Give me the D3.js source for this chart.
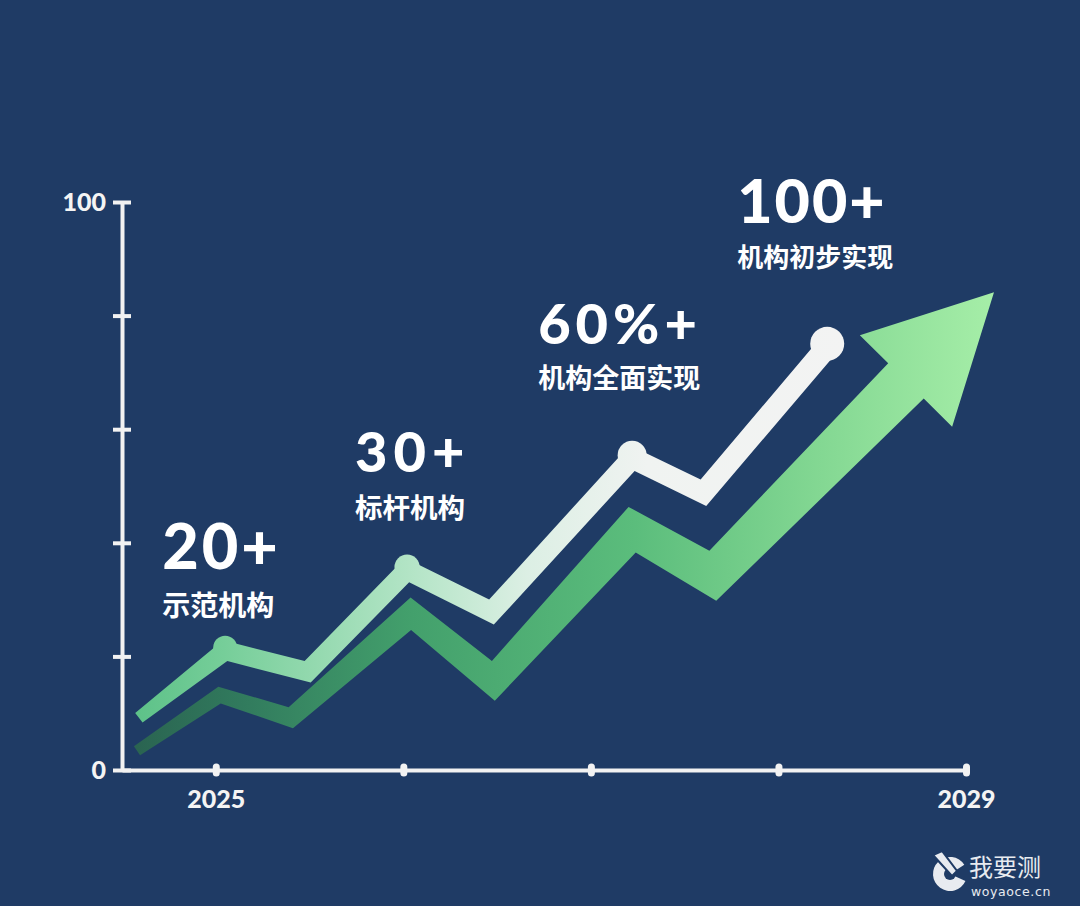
<!DOCTYPE html>
<html lang="zh">
<head>
<meta charset="UTF-8">
<title>机构发展路线</title>
<script src="https://d3js.org/d3.v7.min.js"></script>
<style>
    html, body { margin: 0; padding: 0; background: #1f3b65; }
    svg { display: block; }
    .num { font-family: Lato, 'Open Sans', sans-serif; font-weight: 900; fill: #fff; }
    .cap { font-family: 'Noto Sans CJK SC', sans-serif; font-weight: 700; fill: #fff; }
    .axis text { font-family: Lato, 'Open Sans', sans-serif; font-weight: 900; font-size: 25px; fill: #f4f4f4; }
    .axis path, .axis line { stroke: #f2f2f2; }
</style>
</head>
<body>
<div id="chart"></div>
<script>
// data
const yTicks = [0, 20, 40, 60, 80, 100];
const yLabels = [0, 100];
const xTicks = [2025, 2026, 2027, 2028, 2029];
const xLabels = [2025, 2029];

// upper (white) zigzag
const lineX = [2024.59, 2025.05, 2025.49, 2026.02, 2026.47, 2027.22, 2027.60, 2028.26];
const lineY = [9.2, 21.0, 17.3, 35.2, 27.8, 54.9, 48.8, 74.5];

// lower (green) arrow
const arrowX = [2024.58, 2025.02, 2025.40, 2026.04, 2026.48, 2027.22, 2027.65, 2028.68];
const arrowY = [3.4, 13.2, 9.2, 27.5, 15.7, 42.3, 34.2, 68.5];

// milestones sit on the peaks of the white line
const peakIndex = [1, 3, 5, 7];
const peakValue = [20, 30, 60, 100];
const peakText = ['20+', '30+', '60%+', '100+'];
const peakCaption = ['示范机构', '标杆机构', '机构全面实现', '机构初步实现'];

// label layout (pixels, relative to the dot)
const labelLayout = [
    { dx: -63, dyNum: -82, dyCap: -35, num: 63, cap: 28, ls: 3 },
    { dx: -52, dyNum: -98, dyCap: -52, num: 56, cap: 27.5, ls: 6 },
    { dx: -94, dyNum: -114, dyCap: -70, num: 56, cap: 27, ls: 5 },
    { dx: -90, dyNum: -124, dyCap: -80, num: 61, cap: 26, ls: 2 }
];

const W = 1080, H = 906;

const svg = d3.select('#chart').append('svg')
    .attr('width', W)
    .attr('height', H);

svg.append('rect').attr('width', W).attr('height', H).attr('fill', '#1f3b65');

const x = d3.scaleLinear().domain([2024.5, 2029]).range([122, 966]);
const y = d3.scaleLinear().domain([0, 100]).range([770, 202]);

const defs = svg.append('defs');

function gradient(id, x1, x2, stops) {
    const g = defs.append('linearGradient')
        .attr('id', id)
        .attr('gradientUnits', 'userSpaceOnUse')
        .attr('x1', x1).attr('x2', x2)
        .attr('y1', 0).attr('y2', 0);
    stops.forEach(s => g.append('stop').attr('offset', s[0]).attr('stop-color', s[1]));
}

gradient('greenGrad', x(arrowX[0]), 995, [
    [0, '#2a6451'], [0.12, '#317a5d'], [0.32, '#43a06c'],
    [0.58, '#5bbd7c'], [0.8, '#84d893'], [1, '#a6eea8']
]);
gradient('whiteGrad', x(lineX[0]), 845, [
    [0, '#5ec289'], [0.12, '#76ce99'], [0.38, '#b2e4c5'],
    [0.55, '#dcefe4'], [0.72, '#f0f3f1'], [1, '#f3f3f3']
]);

// axes
const yAxis = svg.append('g')
    .attr('class', 'axis')
    .attr('transform', `translate(${x.range()[0]},0)`)
    .call(d3.axisLeft(y)
        .tickValues(yTicks)
        .tickSizeInner(9)
        .tickSizeOuter(0)
        .tickPadding(7)
        .tickFormat(d => yLabels.includes(d) ? d : ''));
yAxis.select('.domain').attr('stroke-width', 4);
yAxis.selectAll('.tick line').attr('x1', -9).attr('x2', 9).attr('stroke-width', 4);

const xAxis = svg.append('g')
    .attr('class', 'axis')
    .attr('transform', `translate(0,${y(0)})`)
    .call(d3.axisBottom(x)
        .tickValues(xTicks)
        .tickSizeInner(6)
        .tickSizeOuter(0)
        .tickPadding(14)
        .tickFormat(d => xLabels.includes(d) ? d : ''));
xAxis.select('.domain').attr('stroke-width', 4);
xAxis.selectAll('.tick line')
    .attr('y1', -3).attr('y2', 3)
    .attr('stroke-width', 7)
    .attr('stroke-linecap', 'round');

// tapered band along a polyline, optional arrow head at the end
function ribbon(pts, widthAt, head) {
    const n = pts.length;
    const dirs = [];
    for (let i = 0; i < n - 1; i++) {
        const dx = pts[i + 1][0] - pts[i][0], dy = pts[i + 1][1] - pts[i][1];
        const len = Math.hypot(dx, dy);
        dirs.push([dx / len, dy / len]);
    }
    const norms = dirs.map(d => [-d[1], d[0]]);
    const left = [], right = [];
    pts.forEach((p, i) => {
        const hw = widthAt(p[0]) / 2;
        let off;
        if (i === 0) off = [norms[0][0] * hw, norms[0][1] * hw];
        else if (i === n - 1) off = [norms[n - 2][0] * hw, norms[n - 2][1] * hw];
        else {
            const a = norms[i - 1], b = norms[i];
            let m = [a[0] + b[0], a[1] + b[1]];
            const ml = Math.hypot(m[0], m[1]);
            m = [m[0] / ml, m[1] / ml];
            const s = Math.min(hw / (m[0] * b[0] + m[1] * b[1]), hw * 3);
            off = [m[0] * s, m[1] * s];
        }
        left.push([p[0] + off[0], p[1] + off[1]]);
        right.push([p[0] - off[0], p[1] - off[1]]);
    });
    const outline = left.slice();
    if (head) {
        const p = pts[n - 1], d = dirs[n - 2], nn = norms[n - 2];
        outline.push(
            [p[0] + nn[0] * head.half, p[1] + nn[1] * head.half],
            [p[0] + d[0] * head.len, p[1] + d[1] * head.len],
            [p[0] - nn[0] * head.half, p[1] - nn[1] * head.half]
        );
    }
    return outline.concat(right.reverse());
}

const closed = d3.line().curve(d3.curveLinearClosed);

// green arrow
const arrowPts = arrowX.map((v, i) => [x(v), y(arrowY[i])]);
const arrowWidth = d3.scaleLinear()
    .domain([arrowPts[0][0], arrowPts[arrowPts.length - 1][0]])
    .range([11, 50]);
svg.append('path')
    .attr('d', closed(ribbon(arrowPts, arrowWidth, { half: 65, len: 125 })))
    .attr('fill', 'url(#greenGrad)');

// white line
const linePts = lineX.map((v, i) => [x(v), y(lineY[i])]);
const lineWidth = d3.scaleLinear()
    .domain([linePts[0][0], linePts[1][0], linePts[linePts.length - 1][0]])
    .range([12, 19, 22])
    .clamp(true);
svg.append('path')
    .attr('d', closed(ribbon(linePts, lineWidth)))
    .attr('fill', 'url(#whiteGrad)');

// dots
const r = d3.scaleLinear().domain([20, 100]).range([12, 17]);
svg.selectAll('circle.peak')
    .data(peakIndex)
    .enter().append('circle')
    .attr('class', 'peak')
    .attr('cx', d => linePts[d][0])
    .attr('cy', d => linePts[d][1] - 3)
    .attr('r', (d, i) => r(peakValue[i]))
    .attr('fill', 'url(#whiteGrad)');

// milestone labels: big number + caption
peakIndex.forEach((idx, i) => {
    const p = linePts[idx], L = labelLayout[i];
    svg.append('text')
        .attr('class', 'num')
        .attr('x', p[0] + L.dx)
        .attr('y', p[1] + L.dyNum)
        .attr('font-size', L.num)
        .attr('letter-spacing', L.ls)
        .text(peakText[i]);
    svg.append('text')
        .attr('class', 'cap')
        .attr('x', p[0] + L.dx)
        .attr('y', p[1] + L.dyCap)
        .attr('font-size', L.cap)
        .text(peakCaption[i]);
});

// watermark
const wm = svg.append('g').attr('transform', 'translate(950,874)');
wm.append('path')
    .attr('d', d3.arc()({ innerRadius: 0, outerRadius: 17, startAngle: 2.0, endAngle: Math.PI * 2 + 1.0 }))
    .attr('fill', '#e8ebf0');
wm.append('circle').attr('r', 6).attr('fill', '#1f3b65');
wm.append('path')
    .attr('d', 'M-17,-19 L-8,-23 L7,-3 L2,2 Z')
    .attr('fill', '#e8ebf0')
    .attr('stroke', '#1f3b65')
    .attr('stroke-width', 2);
svg.append('text')
    .attr('x', 969).attr('y', 876)
    .attr('fill', '#e8ebf0')
    .attr('font-family', "'Noto Sans CJK SC', sans-serif")
    .attr('font-size', 24)
    .text('我要测');
svg.append('text')
    .attr('x', 971).attr('y', 896)
    .attr('fill', '#e8ebf0')
    .attr('font-family', "'DejaVu Sans', sans-serif")
    .attr('font-size', 12.5)
    .attr('letter-spacing', 0.6)
    .text('woyaoce.cn');
</script>
</body>
</html>
